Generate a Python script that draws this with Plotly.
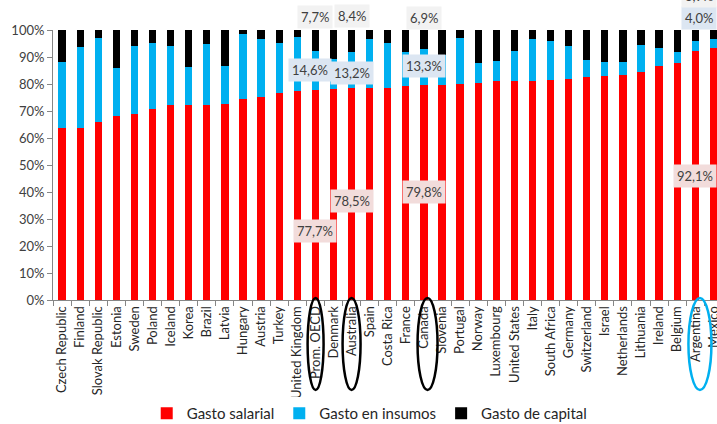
import plotly.graph_objects as go

countries = ["Czech Republic", "Finland", "Slovak Republic", "Estonia", "Sweden", "Poland",
             "Iceland", "Korea", "Brazil", "Latvia", "Hungary", "Austria", "Turkey",
             "United Kingdom", "Prom. OECD", "Denmark", "Australia", "Spain", "Costa Rica",
             "France", "Canada", "Slovenia", "Portugal", "Norway", "Luxembourg",
             "United States", "Italy", "South Africa", "Germany", "Switzerland", "Israel",
             "Netherlands", "Lithuania", "Ireland", "Belgium", "Argentina", "Mexico"]

salarial = [63.8, 63.8, 66.0, 68.3, 69.0, 70.7, 72.1, 72.1, 72.3, 72.7, 74.3, 75.3, 76.8,
            77.3, 77.7, 78.0, 78.5, 78.6, 78.6, 79.4, 79.8, 79.7, 79.9, 80.2, 81.0,
            81.0, 81.2, 81.5, 81.8, 82.6, 83.0, 83.2, 84.6, 86.8, 87.8, 92.1, 93.4]

insumos = [24.5, 30.0, 31.0, 17.6, 25.0, 24.5, 22.1, 14.3, 22.5, 14.1, 24.1, 21.2, 18.4,
           20.0, 14.6, 11.4, 13.2, 18.2, 16.5, 12.3, 13.3, 11.0, 17.3, 7.6, 7.5,
           11.2, 15.5, 14.4, 12.3, 6.3, 5.1, 4.9, 10.0, 6.4, 4.1, 4.0, 3.1]

capital = [11.7, 6.2, 3.0, 14.1, 6.0, 4.8, 5.8, 13.6, 5.2, 13.2, 1.6, 3.5, 4.8,
           2.7, 7.7, 10.6, 8.4, 3.2, 4.9, 8.3, 6.9, 9.3, 2.8, 12.2, 11.5,
           7.8, 3.3, 4.1, 5.9, 11.1, 11.9, 11.9, 5.4, 6.8, 8.1, 3.9, 3.5]

series_names = ["Gasto salarial", "Gasto en insumos", "Gasto de capital"]
series_colors = ["#ff0000", "#00b0f0", "#000000"]

highlight_countries = ["Prom. OECD", "Australia", "Canada", "Argentina"]

fig = go.Figure()
for name, vals, col in zip(series_names, [salarial, insumos, capital], series_colors):
    fig.add_trace(go.Bar(x=countries, y=vals, name=name, marker_color=col,
                         marker_line_width=0))

lab_font = dict(family="Lato, Carlito, sans-serif", size=13, color="#404040")
grey_bg, blue_bg, pink_bg = "#f2f2f2", "#dce6f2", "#f2dcdb"

def fmt(v):
    return f"{v:.1f}%".replace(".", ",")

# label vertical positions (in % of the axis), horizontal pixel shifts
lab_pos = {
    "Prom. OECD": dict(sal=25.6, ins=85.2, cap=104.8, dx=-5, cdx=0),
    "Australia": dict(sal=36.7, ins=84.1, cap=105.2, dx=0, cdx=0),
    "Canada": dict(sal=40.0, ins=86.7, cap=104.4, dx=0, cdx=0),
    "Argentina": dict(sal=46.0, ins=104.6, cap=112.6, dx=4, cdx=4),
}
annotations = []
for c in highlight_countries:
    k = countries.index(c)
    p = lab_pos[c]
    for val, yy, bg, dx in [(salarial[k], p["sal"], pink_bg, 0),
                            (insumos[k], p["ins"], blue_bg, p["dx"]),
                            (capital[k], p["cap"], grey_bg, p["cdx"])]:
        annotations.append(dict(x=c, y=yy / 100, xref="x", yref="paper", text=fmt(val),
                                xanchor="center", yanchor="middle",
                                bgcolor=bg, xshift=dx, showarrow=False, font=lab_font,
                                borderpad=3))

def px2cat(px):
    return (px - 53.3) / 18.1 - 0.5

shapes = []
ell = [(308, 324, "black"), (343, 361, "black"), (418, 438, "black"), (689, 712, "#00b0f0")]
for x0, x1, col in ell:
    shapes.append(dict(type="circle", xref="x", yref="paper",
                       x0=px2cat(x0), x1=px2cat(x1), y0=0.007, y1=-0.333,
                       line=dict(color=col, width=2.5), layer="above"))

fig.update_layout(
    barmode="stack",
    bargap=0.6,
    width=717, height=424,
    margin=dict(l=53, r=0, t=30, b=124, autoexpand=False),
    plot_bgcolor="white", paper_bgcolor="white",
    font=dict(family="Lato, Carlito, sans-serif", size=13, color="#404040"),
    legend=dict(orientation="h", x=0.477, xanchor="center", y=-0.42, yanchor="middle",
                font=dict(size=15, color="#262626"), traceorder="normal",
                itemwidth=30),
    annotations=annotations,
    shapes=shapes,
    showlegend=True,
)
fig.update_xaxes(range=[-0.5, 36.2], tickangle=-90, showline=True, linecolor="#868686",
                 ticks="outside", tickson="boundaries", tickcolor="#868686", ticklen=5,
                 showgrid=False, tickfont=dict(size=13, color="#262626"), automargin=False)
fig.update_yaxes(range=[0, 100], dtick=10, ticksuffix="%", showline=True, linecolor="#868686",
                 ticks="outside", tickcolor="#868686", ticklen=5, showgrid=False,
                 zeroline=False, tickfont=dict(size=13, color="#404040"), automargin=False)

fig.write_html("out.html", config={"displayModeBar": False},
               post_script="document.body.style.margin='0';document.body.style.overflow='hidden';")
